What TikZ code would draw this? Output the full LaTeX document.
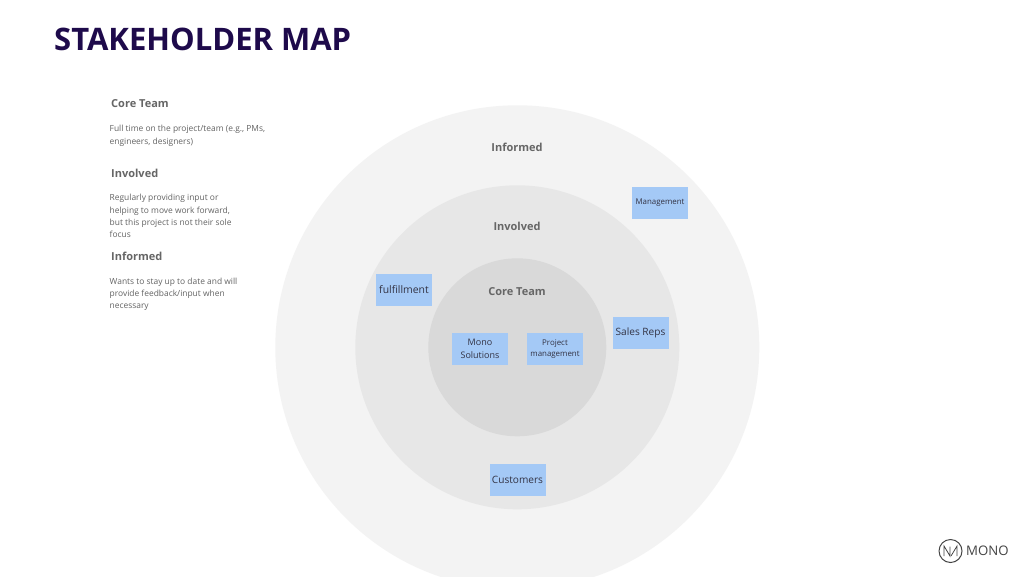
\documentclass[tikz,border=0pt]{standalone}
\usepackage{fontspec}
\setmainfont{Open Sans}
\definecolor{titlec}{HTML}{1E0A4B}
\definecolor{headc}{HTML}{666666}
\definecolor{bodyc}{HTML}{646464}
\definecolor{ringa}{HTML}{F3F3F3}
\definecolor{ringb}{HTML}{E7E7E7}
\definecolor{ringc}{HTML}{D9D9D9}
\definecolor{note}{HTML}{A4C9F6}
\definecolor{notetext}{HTML}{333344}
\definecolor{logoc}{HTML}{444444}
\tikzset{
  x=1pt,y=-1pt,
  ringlabel/.style={font=\bfseries\fontsize{11}{13}\selectfont,text=headc,inner sep=0pt,anchor=center},
  sidehead/.style={font=\bfseries\fontsize{11}{13}\selectfont,text=headc,inner sep=0pt,anchor=west},
  sidebody/.style={font=\fontsize{8.42}{12.2}\selectfont,text=bodyc,inner sep=0pt,anchor=north west,align=left},
  sticky/.style={fill=note,minimum width=56pt,minimum height=32pt,inner sep=0pt,align=center,text=notetext,font=\fontsize{10.1}{12.4}\selectfont},
  smallsticky/.style={sticky,font=\fontsize{7.9}{11}\selectfont},
}
\begin{document}
\begin{tikzpicture}
\useasboundingbox (0,0) rectangle (1024,576);
\fill[white] (0,0) rectangle (1024,576);
\begin{scope}
\clip (0,0) rectangle (1024,576);
\fill[ringa] (517.3,347.3) circle[radius=242];
\fill[ringb] (517.3,347.3) circle[radius=162];
\fill[ringc] (517.3,347.3) circle[radius=89];
\end{scope}
\node[inner sep=0pt,anchor=west,text=titlec,font=\bfseries\fontsize{31}{36}\selectfont] (title) at (54,39) {STAKEHOLDER MAP};
\node[sidehead] (h1) at (111,104) {Core Team};
\node[sidebody] (b1) at (109.5,125.3) {Full time on the project/team (e.g., PMs,\\engineers, designers)};
\node[sidehead] (h2) at (111,173) {Involved};
\node[sidebody] (b2) at (109.5,194.3) {Regularly providing input or\\helping to move work forward,\\but this project is not their sole\\focus};
\node[sidehead] (h3) at (111,256) {Informed};
\node[sidebody] (b3) at (109.5,277.8) {Wants to stay up to date and will\\provide feedback/input when\\necessary};
\node[ringlabel] (l1) at (517,147) {Informed};
\node[ringlabel] (l2) at (517,226) {Involved};
\node[ringlabel] (l3) at (517,291.5) {Core Team};
\node[smallsticky] (s1) at (660,203.1) {Management};
\node[sticky,font=\fontsize{10.4}{12}\selectfont] (s2) at (404,289.5) {fulfillment};
\node[sticky] (s3) at (640.5,333.2) {Sales Reps};
\node[sticky,font=\fontsize{9}{12.4}\selectfont] (s4) at (480,349) {Mono\\Solutions};
\node[smallsticky] (s5) at (555,349.2) {Project\\management};
\node[sticky] (s6) at (517.5,479.5) {Customers};
% logo
\draw[logoc,line width=1pt] (950.5,551) circle[radius=11.5];
\draw[logoc,line width=0.8pt,line join=miter] (944,556) -- (944,546) -- (950,556) -- (950,546.5);
\draw[logoc,line width=0.8pt,line join=miter] (951,556) -- (957,546) -- (957,556);
\node[inner sep=0pt,anchor=west,text=logoc,font=\fontsize{13.2}{15}\selectfont] (logo) at (966,551) {MONO};
\end{tikzpicture}
\end{document}
